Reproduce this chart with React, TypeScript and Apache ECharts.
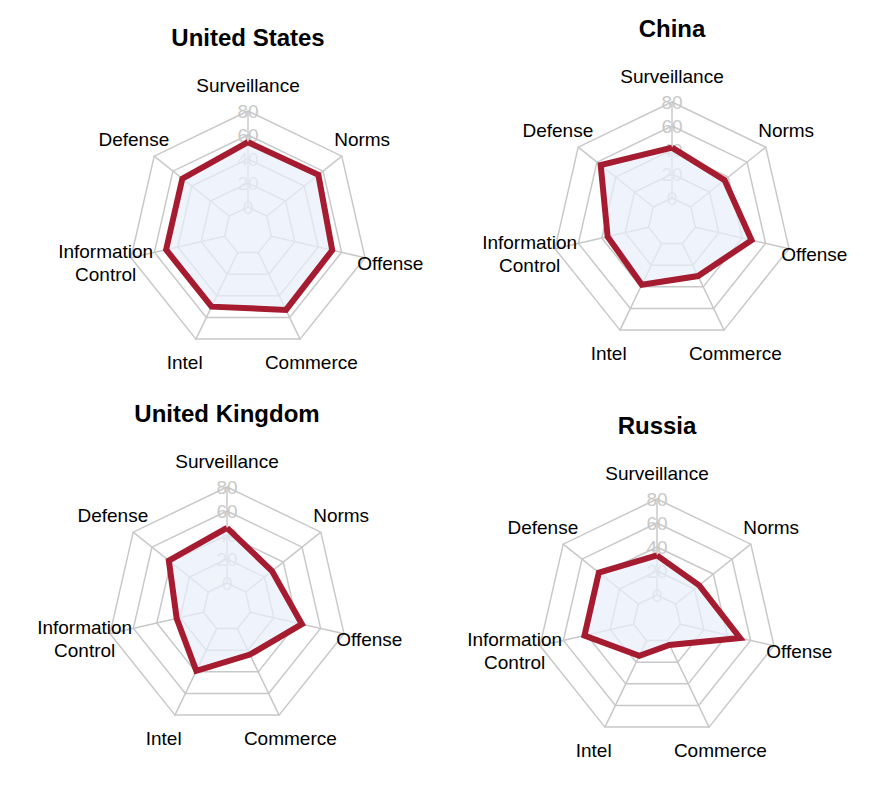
import React, { useEffect, useRef } from "react";
import * as echarts from "echarts";

// ---- data ----
const categories = [
  "Surveillance",
  "Norms",
  "Offense",
  "Commerce",
  "Intel",
  "Information\nControl",
  "Defense",
];
const countries = ["United States", "China", "United Kingdom", "Russia"];
const usValues = [54, 55, 52, 53, 50, 50, 50];
const chinaValues = [42, 36, 48, 30, 38, 35, 56];
const ukValues = [46, 28, 44, 24, 39, 23, 42];
const russiaValues = [33, 25, 51, 4, 14, 42, 42];
const axisMin = 0;
const axisMax = 80;
const axisSplits = 4;

// ---- layout / style ----
const FONT = '"Liberation Sans", Arial, Helvetica, sans-serif';
const centers: [number, number][] = [
  [248, 231],
  [672, 222],
  [227, 607],
  [657, 619],
];
const RADIUS: [number, number] = [24, 120];
const GRID = "#c8c8c8";
const LINE = "#a51c30";

// ECharts lays indicators out counter-clockwise; the reference goes clockwise.
const order = [0, 6, 5, 4, 3, 2, 1];

export default function App() {
  const ref = useRef<HTMLDivElement>(null);
  useEffect(() => {
    if (!ref.current) return;
    const chart = echarts.init(ref.current, undefined, { renderer: "svg" });
    const allValues = [usValues, chinaValues, ukValues, russiaValues];

    const radar = centers.map((c) => ({
      center: c,
      radius: RADIUS,
      startAngle: 90,
      splitNumber: axisSplits,
      shape: "polygon",
      nameGap: 26,
      axisName: {
        color: "#000",
        fontSize: 19,
        fontFamily: FONT,
        align: "center",
        verticalAlign: "middle",
        lineHeight: 23,
      },
      indicator: order.map((i, k) => ({
        name: categories[i],
        min: axisMin,
        max: axisMax,
        ...(k === 0 ? { axisLabel: { show: true } } : {}),
      })),
      axisLine: { lineStyle: { color: GRID, width: 1.5 } },
      splitLine: { lineStyle: { color: GRID, width: 1.5 } },
      splitArea: { show: false },
      axisTick: { show: false },
      axisLabel: {
        show: false,
        color: GRID,
        fontSize: 19,
        fontFamily: FONT,
        margin: 0,
        align: "center",
        verticalAlign: "middle",
      },
    }));

    // fill first (under), then the outline on top
    const fillSeries = allValues.map((vals, idx) => ({
      type: "radar",
      radarIndex: idx,
      symbol: "none",
      silent: true,
      z: 2,
      emphasis: { disabled: true },
      lineStyle: { width: 0, opacity: 0 },
      areaStyle: { color: "#e9f0fb", opacity: 0.72 },
      data: [{ value: order.map((i) => vals[i]), name: countries[idx] }],
    }));
    const lineSeries = allValues.map((vals, idx) => ({
      type: "radar",
      radarIndex: idx,
      symbol: "none",
      silent: true,
      z: 3,
      emphasis: { disabled: true },
      lineStyle: { color: LINE, width: 6, join: "miter", opacity: 1 },
      data: [{ value: order.map((i) => vals[i]), name: countries[idx] }],
    }));

    const title = countries.map((name, idx) => ({
      text: name,
      left: centers[idx][0],
      top: centers[idx][1] - 206,
      textAlign: "center",
      padding: 0,
      textStyle: {
        fontSize: 24,
        fontWeight: "bold",
        color: "#000",
        fontFamily: FONT,
      },
    }));

    chart.setOption({
      animation: false,
      backgroundColor: "#fff",
      title,
      radar,
      series: [...fillSeries, ...lineSeries],
    } as any);
    return () => chart.dispose();
  }, []);

  return (
    <div
      ref={ref}
      style={{ position: "fixed", left: 0, top: 0, width: 878, height: 791 }}
    />
  );
}
